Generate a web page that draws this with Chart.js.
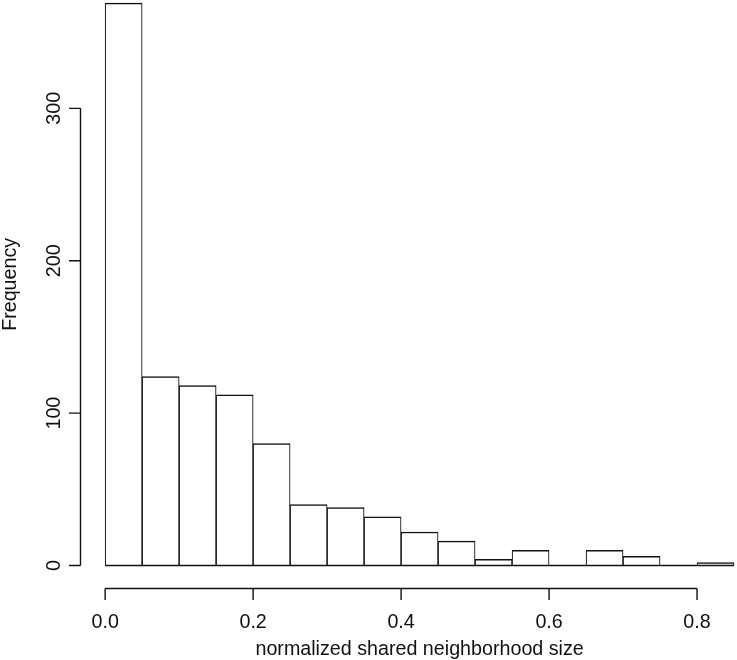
<!DOCTYPE html>
<html>
<head>
<meta charset="utf-8">
<script src="https://cdn.jsdelivr.net/npm/chart.js@4"></script>
<style>
  html, body { margin: 0; padding: 0; background: #fff; }
  #wrap { width: 737px; height: 660px; position: relative; }
</style>
</head>
<body>
<div id="wrap"><canvas id="histChart"></canvas></div>
<script>
// histogram of normalized shared neighborhood size
const breaks = [0, 0.05, 0.1, 0.15, 0.2, 0.25, 0.3, 0.35, 0.4, 0.45, 0.5, 0.55, 0.6, 0.65, 0.7, 0.75, 0.8, 0.85];
const counts = [369, 124, 118, 112, 80, 40, 38, 32, 22, 16, 4, 10, 0, 10, 6, 0, 2];
const xTicks = [0, 0.2, 0.4, 0.6, 0.8];
const xTickLabels = ["0.0", "0.2", "0.4", "0.6", "0.8"];
const yTicks = [0, 100, 200, 300];
const yTickLabels = ["0", "100", "200", "300"];
const xTitle = "normalized shared neighborhood size";
const yTitle = "Frequency";

const FONT = '19.7px "Liberation Sans", Arial, sans-serif';
const INK = '#111';

// bars sit at the middle of each bin
const barData = counts.map((c, i) => ({ x: (breaks[i] + breaks[i + 1]) / 2, y: c }));

// R style axes: only span the tick range, drawn by hand from the scales
const rAxes = {
  id: 'rAxes',
  afterDatasetsDraw(chart) {
    const { ctx, scales: { x, y } } = chart;
    ctx.save();
    ctx.strokeStyle = INK;
    ctx.lineWidth = 1.4;
    // baseline of the histogram, also under the empty bins
    const y0 = y.getPixelForValue(0);
    ctx.beginPath();
    ctx.moveTo(x.getPixelForValue(breaks[0]), y0);
    ctx.lineTo(x.getPixelForValue(breaks[breaks.length - 1]), y0);
    ctx.stroke();
    ctx.restore();
  },
  afterDraw(chart) {
    const { ctx, chartArea, scales: { x, y } } = chart;
    const tick = 11.5;
    ctx.save();
    ctx.strokeStyle = INK;
    ctx.fillStyle = INK;
    ctx.lineWidth = 1.4;
    ctx.font = FONT;

    // x axis
    const ax = chartArea.bottom + 0.5;
    ctx.beginPath();
    ctx.moveTo(x.getPixelForValue(xTicks[0]), ax);
    ctx.lineTo(x.getPixelForValue(xTicks[xTicks.length - 1]), ax);
    xTicks.forEach(v => {
      const px = x.getPixelForValue(v);
      ctx.moveTo(px, ax);
      ctx.lineTo(px, ax + tick);
    });
    ctx.stroke();
    ctx.textAlign = 'center';
    ctx.textBaseline = 'alphabetic';
    xTicks.forEach((v, i) => {
      ctx.fillText(xTickLabels[i], x.getPixelForValue(v), 627.5);
    });
    ctx.fillText(xTitle, x.getPixelForValue((breaks[0] + breaks[breaks.length - 1]) / 2), 654.5);

    // y axis
    const ay = chartArea.left + 0.5;
    ctx.beginPath();
    ctx.moveTo(ay, y.getPixelForValue(yTicks[0]));
    ctx.lineTo(ay, y.getPixelForValue(yTicks[yTicks.length - 1]));
    yTicks.forEach(v => {
      const py = y.getPixelForValue(v);
      ctx.moveTo(ay, py);
      ctx.lineTo(ay - tick, py);
    });
    ctx.stroke();
    yTicks.forEach((v, i) => {
      ctx.save();
      ctx.translate(59.5, y.getPixelForValue(v));
      ctx.rotate(-Math.PI / 2);
      ctx.fillText(yTickLabels[i], 0, 0);
      ctx.restore();
    });
    ctx.save();
    ctx.translate(16, y.getPixelForValue(Math.max(...counts) / 2));
    ctx.rotate(-Math.PI / 2);
    ctx.fillText(yTitle, 0, 0);
    ctx.restore();
    ctx.restore();
  }
};

const ctx = document.getElementById('histChart').getContext('2d');
const histChart = new Chart(ctx, {
  type: 'bar',
  data: {
    datasets: [{
      label: yTitle,
      data: barData,
      backgroundColor: '#fff',
      borderColor: INK,
      borderWidth: { top: 1.5, bottom: 0, left: 1.1, right: 1.1 },
      borderSkipped: false,
      barPercentage: 1,
      categoryPercentage: 1
    }]
  },
  options: {
    responsive: true,
    maintainAspectRatio: false,
    devicePixelRatio: 1,
    animation: false,
    layout: { padding: { left: 80, right: 0, top: 0, bottom: 72 } },
    plugins: { legend: { display: false }, tooltip: { enabled: false } },
    scales: {
      x: { type: 'linear', min: -0.034, max: 0.854, offset: false, display: false },
      y: { min: -14.76, max: 371.1, display: false }
    }
  },
  plugins: [rAxes]
});
</script>
</body>
</html>
